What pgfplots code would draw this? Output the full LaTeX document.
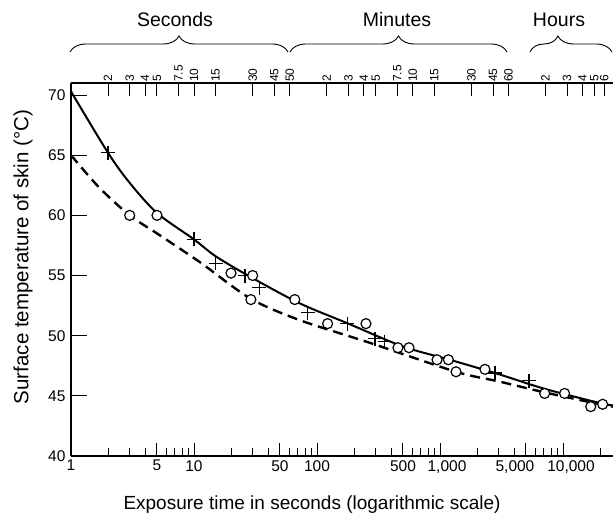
\documentclass[border=0pt]{standalone}
\usepackage{fontspec}
\setmainfont{Liberation Sans}
\usepackage{pgfplots}
\pgfplotsset{compat=1.18}
\usetikzlibrary{decorations.pathreplacing}

\begin{document}
\begin{tikzpicture}
% y axis with long ticks
\begin{axis}[
    scale only axis, width=542pt, height=373pt,
    xmode=log, xmin=1, xmax=25500, ymin=40, ymax=71,
    axis line style={-, line width=1.3pt},
    tick style={black, line width=1pt}, tick align=inside,
    axis y line*=left, axis x line=none,
    ytick={40,45,50,55,60,65,70}, yticklabels={40,45,50,55,60,65,70},
    major tick length=16pt,
    yticklabel style={font=\fontsize{15.5}{18}\selectfont, xshift=-2pt},
]
\end{axis}
% top axis: seconds, minutes, hours
\begin{axis}[
    scale only axis, width=542pt, height=373pt,
    xmode=log, xmin=1, xmax=25500, ymin=40, ymax=71,
    axis line style={-, line width=1.3pt},
    tick style={black, line width=1pt}, tick align=inside,
    axis x line*=top, axis y line=none,
    major tick length=13pt, minor tick length=0pt,
    xtick={2,3,4,5,7.5,10,15,30,45,60,120,180,240,300,450,600,900,1800,2700,3600,7200,10800,14400,18000,21600},
    xticklabels={2,3,4,5,7.5,10,15,30,45,50,2,3,4,5,7.5,10,15,30,45,60,2,3,4,5,6},
    xticklabel style={rotate=90, anchor=west, font=\fontsize{12}{13}\selectfont, inner sep=1pt},
]
\end{axis}
% data axis with bottom log scale
\begin{axis}[
    scale only axis, width=542pt, height=373pt,
    xmode=log, xmin=1, xmax=25500, ymin=40, ymax=71,
    axis line style={-, line width=1.3pt},
    tick style={black, line width=1pt}, tick align=inside,
    clip=false,
    axis x line*=bottom, axis y line*=left, ytick=\empty,
    major tick length=13pt, minor tick length=8pt,
    xtick={1,5,10,50,100,500,1000,5000,10000},
    xticklabels={1,5,10,50,100,500,{1,000\kern-14pt},{\kern-22pt 5,000},{10,000\kern-16pt}},
    minor xtick={2,3,4,6,7,8,9,20,30,40,60,70,80,90,200,300,400,600,700,800,900,2000,3000,4000,6000,7000,8000,9000,20000},
    xticklabel style={font=\fontsize{15.5}{18}\selectfont, inner sep=2pt, yshift=-2pt},
]
% upper curve
\addplot[black, line width=2pt, smooth] coordinates {
    (1,70.3) (2,65.2) (3,62.7) (5,60.2) (10,58) (15,56.6) (28.6,54.9)
    (72,52.7) (180,51) (500,49.1) (1200,48) (3000,46.8) (7000,45.6)
    (20000,44.4) (26000,44.2)
};
% lower curve
\addplot[black, line width=2.4pt, dash pattern=on 10pt off 6pt, smooth] coordinates {
    (1,65) (1.7,62.3) (3,60) (5,58.5) (11.2,56.1) (28.6,53.1) (72,51.3)
    (270,49.4) (1350,47) (3000,46.2) (7000,45.3) (20000,44.3) (26000,44.1)
};
% crosses
\addplot[only marks, mark=+, mark size=7pt, mark options={line width=1.3pt, black}] coordinates {
    (2,65.2) (10,58) (15,56) (26,55) (34,54) (84,51.9) (176,51)
    (297,49.75) (356,49.5) (2800,46.9) (5300,46.25)
};
% circles
\addplot[only marks, mark=*, mark size=5pt, mark options={fill=white, draw=black, line width=1.2pt}] coordinates {
    (3,60) (5,60) (20,55.2) (30,55) (29,53) (66,53) (122,51) (250,51)
    (455,49) (560,49) (946,48) (1170,48) (1350,47) (2320,47.2)
    (7100,45.2) (10300,45.2) (16800,44.1) (21000,44.3)
};
\end{axis}

% braces and group names
\draw[line width=0.9pt, decorate, decoration={brace, amplitude=16pt}] (-1pt,404pt) -- (217pt,404pt);
\draw[line width=0.9pt, decorate, decoration={brace, amplitude=16pt}] (219pt,404pt) -- (436pt,404pt);
\draw[line width=0.9pt, decorate, decoration={brace, amplitude=16pt, aspect=0.34}] (459pt,404pt) -- (541pt,404pt);
\node[font=\fontsize{19.5}{22}\selectfont] at (104pt,436pt) {Seconds};
\node[font=\fontsize{19.5}{22}\selectfont] at (326pt,436pt) {Minutes};
\node[font=\fontsize{19.5}{22}\selectfont] at (488pt,436pt) {Hours};

% axis titles
\node[rotate=90, font=\fontsize{20.5}{24}\selectfont] at (-48pt,199pt) {Surface temperature of skin (°C)};
\node[font=\fontsize{19}{22}\selectfont] at (241pt,-49pt) {Exposure time in seconds (logarithmic scale)};

\pgfresetboundingbox
\path[use as bounding box] (-71pt,-64pt) rectangle (542pt,456pt);
\end{tikzpicture}
\end{document}
